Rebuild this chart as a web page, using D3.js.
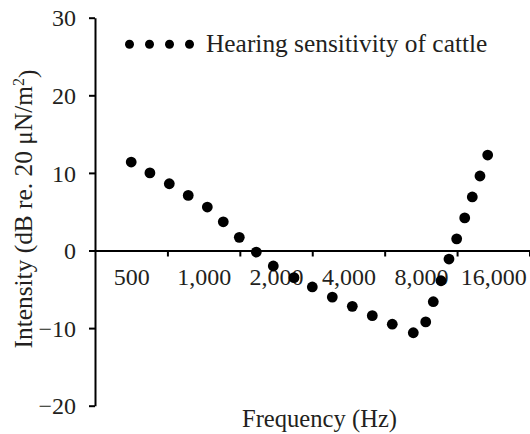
<!DOCTYPE html>
<html>
<head>
<meta charset="utf-8">
<script src="https://cdn.jsdelivr.net/npm/d3@7"></script>
<style>
  html, body { margin: 0; padding: 0; background: #fff; }
  svg text { font-family: "Liberation Serif", "Times New Roman", serif; fill: #231f20; }
</style>
</head>
<body>
<svg id="chart" width="530" height="434"></svg>
<script>
// ---- data ----
const frequencies = [500, 598, 720, 863, 1036, 1207, 1407, 1656, 1948, 2375, 2830, 3427, 4150, 5025, 6084, 7440, 8380, 9009, 9700, 10470, 11270, 12170, 13085, 14085, 15165];
const intensities = [11.4, 10.0, 8.6, 7.1, 5.6, 3.7, 1.7, -0.2, -2.0, -3.5, -4.7, -6.0, -7.2, -8.4, -9.5, -10.6, -9.2, -6.6, -3.9, -1.1, 1.5, 4.2, 6.9, 9.6, 12.3];
const xTickLabels = [500, 1000, 2000, 4000, 8000, 16000];
const yTicks = [-20, -10, 0, 10, 20, 30];
const seriesName = "Hearing sensitivity of cattle";

const svg = d3.select("#chart");
const FS = 24;

const x = d3.scaleLog()
  .domain([xTickLabels[0] / Math.SQRT2, xTickLabels[xTickLabels.length - 1] * Math.SQRT2])
  .range([95, 529.5]);
const y = d3.scaleLinear().domain([-20, 30]).range([405.7, 17.7]);

// y axis
const yAxis = svg.append("g")
  .attr("transform", `translate(${x.range()[0]},0)`)
  .call(d3.axisLeft(y).tickValues(yTicks).tickSize(6).tickSizeOuter(0).tickPadding(13));
yAxis.select(".domain").attr("stroke", "#000").attr("stroke-width", 2);
yAxis.selectAll(".tick line").attr("stroke", "#000").attr("stroke-width", 2);
yAxis.selectAll(".tick text").style("font-size", FS + "px").attr("dy", "0.34em");

// x axis at y = 0 : tick marks at category boundaries, labels at centres
const boundaries = xTickLabels.map(d => d * Math.SQRT2);
const xAxisTicks = svg.append("g")
  .attr("transform", `translate(0,${y(0)})`)
  .call(d3.axisBottom(x).tickValues(boundaries).tickSize(6).tickSizeOuter(0).tickFormat(""));
xAxisTicks.select(".domain").attr("stroke", "#000").attr("stroke-width", 2);
xAxisTicks.selectAll(".tick line").attr("stroke", "#000").attr("stroke-width", 2);

const xAxisLabels = svg.append("g")
  .attr("transform", `translate(0,${y(0)})`)
  .call(d3.axisBottom(x).tickValues(xTickLabels).tickSize(0).tickPadding(17).tickFormat(d3.format(",")));
xAxisLabels.select(".domain").remove();
xAxisLabels.selectAll(".tick text").style("font-size", FS + "px");

// points
svg.append("g").selectAll("circle")
  .data(frequencies)
  .join("circle")
  .attr("cx", d => x(d))
  .attr("cy", (d, i) => y(intensities[i]))
  .attr("r", 5.4)
  .attr("fill", "#000");

// legend
const legend = svg.append("g");
[129.5, 149.5, 169.5, 189.5].forEach(cx => {
  legend.append("circle").attr("cx", cx).attr("cy", 44.3).attr("r", 4.5).attr("fill", "#000");
});
legend.append("text").attr("x", 206).attr("y", 51.6).style("font-size", "25.4px").text(seriesName);

// axis titles
svg.append("text")
  .attr("x", 319.5).attr("y", 427)
  .attr("text-anchor", "middle")
  .style("font-size", "24.6px")
  .text("Frequency (Hz)");

const yt = svg.append("text")
  .attr("transform", "translate(31.5,209) rotate(-90)")
  .attr("text-anchor", "middle")
  .style("font-size", "25.4px");
yt.append("tspan").text("Intensity (dB re. 20 μN/m");
yt.append("tspan").attr("dy", "-0.45em").style("font-size", "16px").text("2");
yt.append("tspan").attr("dy", "0.45em").text(")");
</script>
</body>
</html>
